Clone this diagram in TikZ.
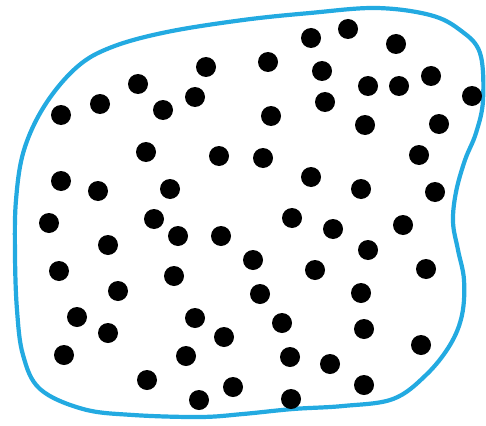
\documentclass[tikz,border=0pt]{standalone}
\definecolor{blobblue}{RGB}{35,170,225}
\begin{document}
\begin{tikzpicture}[x=1pt,y=-1pt,
  outline/.style={draw=blobblue,line width=4.2pt},
  dot/.style={fill=black}]
\useasboundingbox (0,0) rectangle (486,425);
\draw[outline] plot[smooth cycle,tension=0.6] coordinates {
 (243,20) (310,13) (376,8) (430,15) (460,30) (480,53) (483,100) (476,133)
 (465,160) (456,192) (453,222) (458,250) (464,280) (462,315) (450,345) (426,375)
 (393,399) (343,406) (293,409) (243,414) (200,417) (133,415) (83,409)
 (40,389) (23,355) (17,310) (15,255) (16,200) (24,150) (45,105) (77,67)
 (112,47) (167,32)};
\foreach \p in {(311,38),(348,29),(396,44),(206,67),(268,62),(322,71),(138,84),
 (195,97),(368,86),(399,86),(431,76),(472,96),(61,115),(100,104),(163,110),
 (271,116),(325,102),(365,125),(439,124),(146,152),(219,156),(263,158),
 (419,155),(61,181),(98,191),(170,189),(311,177),(361,189),(435,192),
 (49,223),(154,219),(178,236),(221,236),(108,245),(292,218),(333,229),
 (403,225),(368,250),(59,271),(174,276),(253,260),(315,270),(426,269),
 (118,291),(260,294),(361,293),(77,317),(195,318),(108,333),(224,337),
 (282,323),(364,329),(64,355),(186,356),(290,357),(330,364),(421,345),
 (147,380),(233,387),(364,385),(199,400),(291,399)}
  \fill[dot] \p circle (10);
\end{tikzpicture}
\end{document}
